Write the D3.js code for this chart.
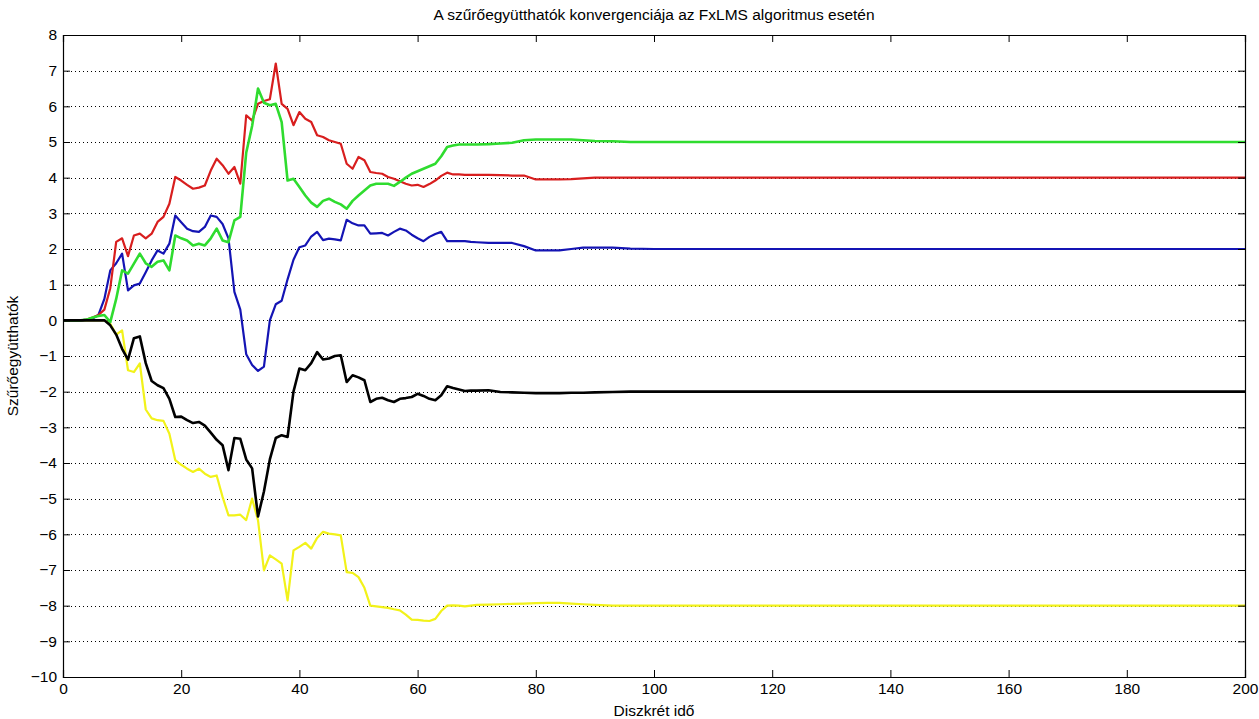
<!DOCTYPE html>
<html>
<head>
<meta charset="utf-8">
<script src="https://cdn.jsdelivr.net/npm/d3@7"></script>
<style>
  html, body { margin: 0; padding: 0; background: #fff; }
  svg { display: block; }
  text { fill: #000; font-family: "Liberation Sans", Arial, Helvetica, sans-serif; }
</style>
</head>
<body>
<script>
// Filter coefficient convergence for the FxLMS algorithm (one series per tap).
const steps = [
  0, 1, 2, 3, 4, 5, 6, 7, 8, 9, 10, 11, 12, 13, 14, 15, 16, 17, 18, 19,
  20, 21, 22, 23, 24, 25, 26, 27, 28, 29, 30, 31, 32, 33, 34, 35, 36, 37, 38, 39,
  40, 41, 42, 43, 44, 45, 46, 47, 48, 49, 50, 51, 52, 53, 54, 55, 56, 57, 58, 59,
  60, 61, 62, 63, 64, 65, 66, 67, 68, 69, 70,
  72, 74, 76, 78, 80, 82, 84, 86, 88, 90, 93, 96, 100, 200
];

const coefRed = [
  0, 0, 0, 0, 0.02, 0.08, 0.15, 0.3, 0.9, 2.2, 2.3, 1.8, 2.38, 2.43, 2.3, 2.43, 2.76, 2.9, 3.27, 4.02,
  3.92, 3.8, 3.69, 3.72, 3.78, 4.2, 4.53, 4.35, 4.11, 4.3, 3.83, 5.75, 5.6, 6.07, 6.15, 6.2, 7.2, 6.07, 5.93, 5.47,
  5.84, 5.65, 5.56, 5.19, 5.14, 5.05, 5.0, 4.95, 4.39, 4.25, 4.58, 4.49, 4.16, 4.13, 4.11, 4.02, 3.97, 3.9, 3.83, 3.78,
  3.8, 3.74, 3.82, 3.92, 4.05, 4.14, 4.09, 4.09, 4.08, 4.08, 4.08,
  4.08, 4.07, 4.06, 4.06, 3.95, 3.95, 3.95, 3.96, 3.98, 4.0, 4.0, 4.0, 4.0, 4.0
];

const coefGreen = [
  0, 0, 0, 0, 0.02, 0.08, 0.12, 0.15, -0.05, 0.6, 1.4, 1.31, 1.59, 1.87, 1.6, 1.5, 1.64, 1.68, 1.4, 2.38,
  2.3, 2.24, 2.1, 2.15, 2.1, 2.3, 2.57, 2.24, 2.19, 2.8, 2.9, 4.7, 5.45, 6.5, 6.1, 6.03, 6.07, 5.56, 3.92, 3.97,
  3.74, 3.5, 3.3, 3.18, 3.35, 3.41, 3.32, 3.25, 3.13, 3.35, 3.5, 3.64, 3.78, 3.83, 3.83, 3.83, 3.77, 3.88, 4.0, 4.11,
  4.18, 4.25, 4.32, 4.39, 4.6, 4.86, 4.9, 4.93, 4.93, 4.93, 4.93,
  4.94, 4.96, 4.98, 5.05, 5.07, 5.07, 5.07, 5.07, 5.05, 5.03, 5.02, 5.0, 5.0, 5.0
];

const coefBlue = [
  0, 0, 0, 0, 0.02, 0.05, 0.15, 0.6, 1.4, 1.6, 1.87, 0.84, 0.98, 1.03, 1.35, 1.68, 1.96, 1.87, 2.15, 2.94,
  2.75, 2.57, 2.5, 2.48, 2.62, 2.94, 2.9, 2.7, 2.3, 0.8, 0.3, -0.95, -1.25, -1.42, -1.3, 0.0, 0.45, 0.55, 1.15, 1.7,
  2.05, 2.1, 2.35, 2.48, 2.25, 2.29, 2.27, 2.24, 2.82, 2.72, 2.66, 2.66, 2.43, 2.44, 2.45, 2.38, 2.48, 2.57, 2.52, 2.4,
  2.3, 2.22, 2.34, 2.42, 2.48, 2.22, 2.22, 2.22, 2.22, 2.2, 2.19,
  2.17, 2.17, 2.17, 2.08, 1.96, 1.96, 1.96, 2.0, 2.04, 2.04, 2.04, 2.01, 2.0, 2.0
];

const coefBlack = [
  0, 0, 0, 0, 0, 0, 0, 0, -0.14, -0.4, -0.8, -1.1, -0.5, -0.45, -1.2, -1.7, -1.82, -1.9, -2.2, -2.71,
  -2.7, -2.8, -2.88, -2.85, -2.95, -3.15, -3.35, -3.5, -4.2, -3.3, -3.32, -3.9, -4.15, -5.5, -4.8, -3.9, -3.3, -3.22, -3.27, -2.0,
  -1.35, -1.4, -1.2, -0.89, -1.1, -1.07, -1.0, -0.98, -1.73, -1.54, -1.6, -1.68, -2.29, -2.2, -2.17, -2.24, -2.29, -2.2, -2.18, -2.15,
  -2.06, -2.12, -2.2, -2.24, -2.1, -1.85, -1.9, -1.94, -1.98, -1.97, -1.97,
  -1.96, -2.01, -2.02, -2.03, -2.04, -2.04, -2.04, -2.03, -2.03, -2.02, -2.01, -2.0, -2.0, -2.0
];

const coefYellow = [
  0, 0, 0, 0, 0, 0, 0, 0, -0.1, -0.4, -0.28, -1.4, -1.45, -1.21, -2.5, -2.75, -2.8, -2.82, -3.18, -3.92,
  -4.05, -4.16, -4.25, -4.16, -4.3, -4.39, -4.35, -4.95, -5.47, -5.47, -5.45, -5.6, -5.0, -5.61, -7.01, -6.59, -6.7, -6.82, -7.85, -6.45,
  -6.35, -6.24, -6.4, -6.1, -5.93, -5.98, -6.0, -6.03, -7.06, -7.08, -7.2, -7.5, -8.0, -8.02, -8.04, -8.06, -8.1, -8.13, -8.25, -8.39,
  -8.4, -8.42, -8.43, -8.37, -8.15, -8.0, -7.99, -8.0, -8.02, -8.0, -7.98,
  -7.97, -7.96, -7.95, -7.94, -7.93, -7.92, -7.92, -7.94, -7.96, -7.98, -8.0, -8.0, -8.0, -8.0
];

const xTicks = [0, 20, 40, 60, 80, 100, 120, 140, 160, 180, 200];
const yTicks = [-10, -9, -8, -7, -6, -5, -4, -3, -2, -1, 0, 1, 2, 3, 4, 5, 6, 7, 8];

const titleText = "A szűrőegyütthatók konvergenciája az FxLMS algoritmus esetén";
const xLabelText = "Diszkrét idő";
const yLabelText = "Szűrőegyütthatók";

const series = [
  { values: coefYellow, color: "#f2f21a", width: 2.2 },
  { values: coefBlue,   color: "#1414b4", width: 2.2 },
  { values: coefRed,    color: "#d81e1e", width: 2.2 },
  { values: coefGreen,  color: "#2fdc2f", width: 2.6 },
  { values: coefBlack,  color: "#000000", width: 2.6 }
];

const W = 1259, H = 719;
const m = { left: 63, right: 14, top: 35, bottom: 42 };
const iw = W - m.left - m.right, ih = H - m.top - m.bottom;
const FS = 15.5;

const svg = d3.select("body").append("svg").attr("width", W).attr("height", H);
svg.append("rect").attr("width", W).attr("height", H).attr("fill", "#fff");

const x = d3.scaleLinear().domain([0, 200]).range([0, iw]);
const y = d3.scaleLinear().domain([-10, 8]).range([ih, 0]);

const g = svg.append("g").attr("transform", `translate(${m.left},${m.top})`);

// dotted horizontal grid
g.append("g").selectAll("line").data(yTicks.filter(v => v > -10 && v < 8)).join("line")
  .attr("x1", 0).attr("x2", iw)
  .attr("y1", d => Math.round(y(d)) + 0.5).attr("y2", d => Math.round(y(d)) + 0.5)
  .attr("stroke", "#000").attr("stroke-width", 1).attr("stroke-dasharray", "1,3");

// coefficient traces
const line = d3.line().x((d, i) => x(steps[i])).y(d => y(d));
series.forEach(s => {
  g.append("path").datum(s.values)
    .attr("fill", "none").attr("stroke", s.color).attr("stroke-width", s.width)
    .attr("stroke-linejoin", "round").attr("d", line);
});

// axes with inward ticks on all four sides
const tickLen = 7;
const xb = g.append("g").attr("transform", `translate(0,${ih})`)
  .call(d3.axisBottom(x).tickValues(xTicks).tickSize(-tickLen).tickPadding(6).tickFormat(d3.format("d")));
const xt = g.append("g")
  .call(d3.axisTop(x).tickValues(xTicks).tickSize(-tickLen).tickFormat(""));
const yl = g.append("g")
  .call(d3.axisLeft(y).tickValues(yTicks).tickSize(-tickLen).tickPadding(6).tickFormat(d3.format("d")));
const yr = g.append("g").attr("transform", `translate(${iw},0)`)
  .call(d3.axisRight(y).tickValues(yTicks).tickSize(-tickLen).tickFormat(""));

[xb, xt, yl, yr].forEach(a => {
  a.select(".domain").attr("stroke", "#000").attr("stroke-width", 1.2);
  a.selectAll(".tick line").attr("stroke", "#000").attr("stroke-width", 1);
  a.selectAll("text").attr("fill", "#000").attr("font-size", FS)
    .attr("font-family", "'Liberation Sans', Arial, sans-serif");
});

svg.append("text").attr("x", m.left + iw / 2).attr("y", 20)
  .attr("text-anchor", "middle").attr("font-size", FS).text(titleText);
svg.append("text").attr("x", m.left + iw / 2).attr("y", 716)
  .attr("text-anchor", "middle").attr("font-size", FS).text(xLabelText);
svg.append("text").attr("transform", `translate(18,${m.top + ih / 2}) rotate(-90)`)
  .attr("text-anchor", "middle").attr("font-size", FS).text(yLabelText);
</script>
</body>
</html>
